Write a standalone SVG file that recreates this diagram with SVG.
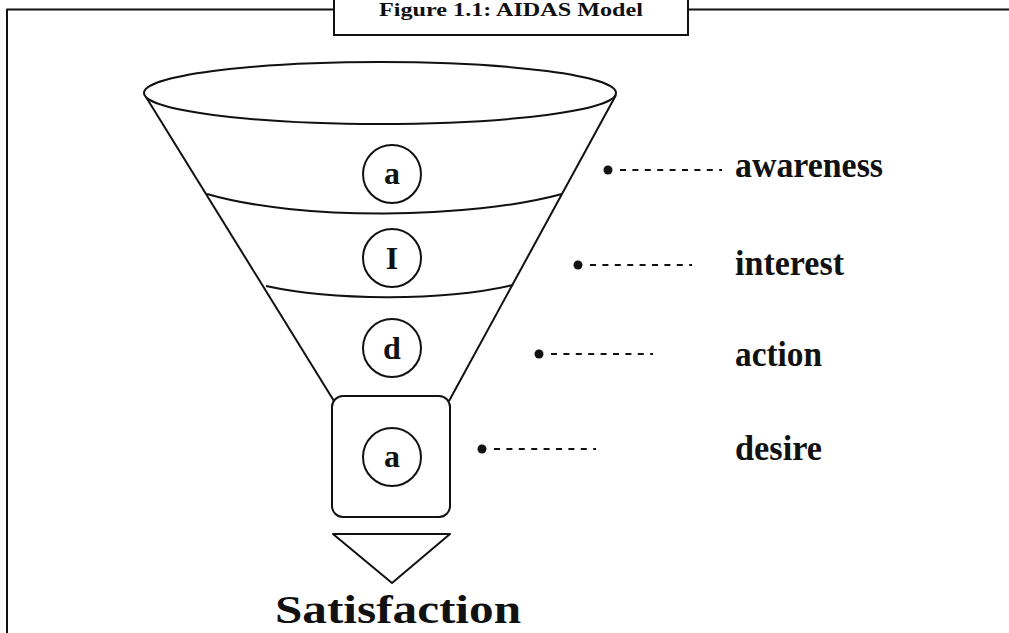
<svg xmlns="http://www.w3.org/2000/svg" width="1009" height="633" viewBox="0 0 1009 633">
<style>
.ln{fill:none;stroke:#111;stroke-width:2;stroke-linejoin:round}
.wh{fill:#fff;stroke:#111;stroke-width:2}
.t{font-family:"Liberation Serif","Times New Roman",serif;font-weight:bold;fill:#111}
.lbl{font-size:35px}
.cl{font-size:32px;text-anchor:middle}
.dash{stroke:#111;stroke-width:2;stroke-dasharray:6 6.4}
</style>
<rect width="1009" height="633" fill="#fff"/>
<g id="frame">
<path class="ln" d="M7,633 V9.5 H334 M688,9.5 H1009" stroke-width="2.5"/>
<rect class="wh" x="334" y="-2" width="354" height="37"/>
<text class="t" x="511" y="16" font-size="19" text-anchor="middle" textLength="264" lengthAdjust="spacingAndGlyphs">Figure 1.1: AIDAS Model</text>
</g>
<g id="funnel">
<path class="ln" d="M146,97 L334,401"/>
<path class="ln" d="M616,95 L449,401"/>
<ellipse class="ln" cx="380" cy="93" rx="236" ry="31"/>
<path class="ln" d="M207,194 C300,221 470,219 562,194"/>
<path class="ln" d="M266,286 C330,300 440,302 513,285"/>
</g>
<g id="awareness-stage">
<circle class="ln" cx="392" cy="174" r="29"/>
<text class="t cl" x="392" y="184">a</text>
</g>
<g id="interest-stage">
<circle class="ln" cx="392" cy="258" r="29"/>
<text class="t cl" x="392" y="269">I</text>
</g>
<g id="desire-stage">
<circle class="ln" cx="392" cy="348" r="29"/>
<text class="t cl" x="392" y="359">d</text>
</g>
<g id="action-stage">
<rect class="ln" x="332" y="396" width="118" height="121" rx="11"/>
<circle class="ln" cx="392" cy="457" r="29"/>
<text class="t cl" x="392" y="467">a</text>
</g>
<g id="satisfaction">
<path class="ln" d="M333,534 H450 L392,583 Z"/>
<text class="t" x="275" y="623" font-size="40" textLength="246" lengthAdjust="spacingAndGlyphs">Satisfaction</text>
</g>
<g id="connectors">
<circle cx="608" cy="170" r="4.5" fill="#111"/><line class="dash" x1="620" y1="170" x2="722" y2="170"/>
<circle cx="578" cy="265" r="4.5" fill="#111"/><line class="dash" x1="590" y1="265" x2="692" y2="265"/>
<circle cx="539" cy="354" r="4.5" fill="#111"/><line class="dash" x1="551" y1="354" x2="653" y2="354"/>
<circle cx="482" cy="449" r="4.5" fill="#111"/><line class="dash" x1="494" y1="449" x2="596" y2="449"/>
</g>
<g id="labels">
<text class="t lbl" x="735" y="177" textLength="148" lengthAdjust="spacingAndGlyphs">awareness</text>
<text class="t lbl" x="735" y="275" textLength="109" lengthAdjust="spacingAndGlyphs">interest</text>
<text class="t lbl" x="735" y="366" textLength="87" lengthAdjust="spacingAndGlyphs">action</text>
<text class="t lbl" x="735" y="460" textLength="87" lengthAdjust="spacingAndGlyphs">desire</text>
</g>
</svg>
